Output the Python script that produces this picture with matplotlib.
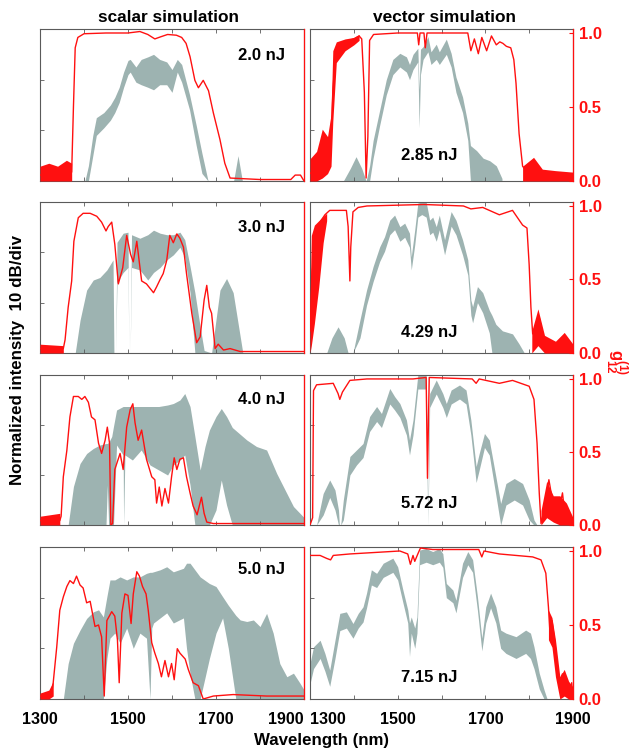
import matplotlib.pyplot as plt

plt.rcParams['font.family'] = ['Liberation Sans', 'DejaVu Sans']
plt.rcParams['font.weight'] = 'bold'
plt.rcParams['mathtext.fontset'] = 'custom'
plt.rcParams['mathtext.rm'] = 'Liberation Sans'
plt.rcParams['mathtext.bf'] = 'Liberation Sans:bold'

# spectra: (wavelength nm, upper dB, lower dB), 10 dB/div, 0 dB at top
# coherence g12: (wavelength nm, value); noisy parts as (wl, low, high) bands

energies_scalar = ['2.0 nJ', '3.0 nJ', '4.0 nJ', '5.0 nJ']
energies_vector = ['2.85 nJ', '4.29 nJ', '5.72 nJ', '7.15 nJ']

# ---- scalar 2.0 nJ
gray_a = [(1402, -30, -30), (1410, -27, -30), (1420, -21, -25), (1428, -17.5, -21), (1445, -16.5, -19.5),
          (1460, -15, -18), (1470, -13.5, -16.5), (1480, -11.5, -14.5), (1490, -8.5, -11.5), (1500, -6.2, -9),
          (1505, -6, -8.5), (1518, -7.5, -10.5), (1530, -6, -11), (1545, -5.5, -11.5), (1558, -5, -12),
          (1572, -6, -11), (1588, -6.5, -11), (1600, -8, -12.5), (1612, -6, -8.5), (1622, -7, -10.5),
          (1640, -13, -16), (1655, -19, -23), (1668, -24.5, -28.5), (1682, -30, -30), (1740, -30, -30),
          (1750, -25, -30), (1760, -30, -30)]
red_a = [(1300, 0.04), (1372, 0.06), (1376, 0.5), (1380, 0.9), (1386, 0.97), (1400, 0.995), (1450, 1.0),
         (1500, 1.0), (1527, 1.01), (1545, 0.99), (1561, 0.96), (1575, 0.975), (1590, 0.99), (1610, 0.985),
         (1622, 0.97), (1632, 0.93), (1641, 0.84), (1652, 0.68), (1660, 0.63), (1671, 0.68), (1683, 0.61),
         (1694, 0.46), (1709, 0.28), (1720, 0.12), (1732, 0.02), (1800, 0.01), (1870, 0.01), (1880, 0.04),
         (1892, 0.04), (1900, 0.0)]
noise_a = [[(1300, 0.0, 0.1), (1320, 0.0, 0.12), (1340, 0.0, 0.1), (1360, 0.0, 0.14), (1372, 0.0, 0.12)]]

# ---- vector 2.85 nJ
gray_b = [(1376, -30, -30), (1392, -27.5, -30), (1405, -25.2, -30), (1418, -27.5, -30), (1428, -30, -30),
          (1436, -27, -30), (1444, -22, -25.5), (1459, -16, -19), (1474, -10, -13), (1489, -6, -9),
          (1505, -4.8, -7.5), (1520, -5.5, -8.5), (1527, -7, -10), (1535, -5, -8), (1546, -3.8, -6.5),
          (1549, -12, -19.5), (1552, -4, -9), (1558, -3.5, -6), (1569, -1.5, -4.5), (1576, -4.5, -7),
          (1588, -3, -6), (1595, -4.5, -7), (1611, -2, -5), (1622, -4.8, -7.5), (1633, -9.5, -12.5),
          (1648, -13.4, -16.5), (1660, -18.6, -22), (1666, -23, -30), (1680, -24, -30), (1695, -25.5, -30),
          (1710, -26, -30), (1725, -27, -30), (1738, -29.5, -30)]
red_b = [(1300, 0.05), (1320, 0.1), (1335, 0.2), (1348, 0.3), (1352, 0.6), (1358, 0.85), (1365, 0.92),
         (1380, 0.94), (1400, 0.96), (1412, 0.98), (1418, 0.96), (1424, 0.6), (1428, 0.02), (1432, 0.3),
         (1436, 0.95), (1445, 0.99), (1500, 1.0), (1545, 1.0), (1548, 0.92), (1551, 1.0), (1560, 1.0),
         (1563, 0.9), (1567, 1.0), (1660, 1.0), (1667, 0.88), (1675, 0.96), (1684, 0.86), (1692, 0.97),
         (1703, 0.88), (1714, 0.98), (1725, 0.92), (1733, 0.94), (1740, 0.93), (1748, 0.91), (1758, 0.9),
         (1765, 0.82), (1770, 0.66), (1777, 0.32), (1785, 0.1), (1800, 0.04), (1815, 0.12), (1825, 0.05),
         (1850, 0.04), (1880, 0.03), (1900, 0.03)]
noise_b = [[(1300, 0.0, 0.15), (1315, 0.0, 0.2), (1328, 0.02, 0.35), (1340, 0.05, 0.3), (1348, 0.1, 0.45),
            (1352, 0.4, 0.88), (1360, 0.8, 0.94), (1380, 0.88, 0.96), (1400, 0.92, 0.97), (1412, 0.95, 0.99)],
           [(1785, 0.0, 0.1), (1810, 0.0, 0.16), (1830, 0.0, 0.08), (1860, 0.0, 0.07), (1900, 0.0, 0.06)]]

# ---- scalar 3.0 nJ
gray_c = [(1380, -30, -30), (1391, -23.5, -30), (1406, -17.5, -30), (1421, -15.5, -30), (1436, -15, -30),
          (1452, -13.5, -30), (1466, -11.5, -30), (1468, -30, -30), (1472, -30, -30), (1475, -8, -16),
          (1489, -6.2, -14), (1500, -6, -13), (1502, -30, -30), (1505, -30, -30), (1508, -6.5, -13),
          (1527, -7.2, -13.5), (1545, -6.5, -15.5), (1558, -5.6, -14), (1573, -6.2, -13), (1588, -6.5, -11.5),
          (1603, -6.5, -10.5), (1618, -6, -9), (1629, -7.5, -11), (1641, -12.8, -18), (1652, -18, -30),
          (1664, -24.8, -30), (1673, -29.5, -30), (1690, -30, -30), (1696, -26, -30), (1709, -17.5, -30),
          (1724, -15.2, -30), (1739, -18, -30), (1750, -24, -30), (1761, -30, -30)]
red_c = [(1300, 0.03), (1353, 0.03), (1357, 0.09), (1364, 0.31), (1372, 0.49), (1377, 0.76), (1387, 0.92),
         (1398, 0.95), (1414, 0.95), (1429, 0.93), (1440, 0.89), (1450, 0.83), (1455, 0.86), (1463, 0.89),
         (1470, 0.74), (1478, 0.47), (1488, 0.58), (1497, 0.8), (1506, 0.67), (1512, 0.62), (1520, 0.76),
         (1526, 0.61), (1531, 0.49), (1542, 0.47), (1558, 0.41), (1565, 0.45), (1573, 0.5), (1580, 0.54),
         (1588, 0.63), (1595, 0.8), (1603, 0.75), (1611, 0.81), (1618, 0.78), (1626, 0.72), (1633, 0.54),
         (1645, 0.27), (1656, 0.07), (1664, 0.11), (1673, 0.36), (1679, 0.46), (1685, 0.31), (1690, 0.27),
         (1698, 0.03), (1705, 0.06), (1717, 0.02), (1732, 0.03), (1755, 0.01), (1900, 0.01)]
noise_c = [[(1300, 0.0, 0.06), (1353, 0.0, 0.05)]]

# ---- vector 4.29 nJ
gray_d = [(1338, -30, -30), (1350, -27, -30), (1364, -24.8, -30), (1378, -27, -30), (1387, -30, -30),
          (1398, -30, -30), (1414, -23.4, -27), (1429, -17.5, -20.5), (1444, -12.8, -15.8), (1459, -8.9, -11.8),
          (1470, -6.9, -9.8), (1482, -3.6, -6.5), (1493, -2.6, -5.5), (1505, -4.9, -7.8), (1516, -4.2, -7),
          (1527, -6.2, -9), (1531, -10.9, -13.5), (1539, -5.5, -8.5), (1546, -0.2, -3), (1555, 0, -2.5),
          (1565, 0, -3), (1573, -3.6, -6.5), (1580, -3, -6), (1588, -4.9, -7.8), (1595, -2.6, -5.5),
          (1607, -7.5, -10.5), (1622, -1.9, -4.8), (1633, -3.6, -6.5), (1648, -7.5, -10.5), (1660, -11.5, -14.5),
          (1667, -19.5, -22.5), (1671, -20.8, -24), (1682, -16.8, -20), (1694, -18, -22), (1709, -21.5, -26),
          (1715, -22.5, -30), (1724, -24.3, -30), (1739, -25.6, -30), (1762, -26.2, -30), (1777, -28.2, -30),
          (1789, -30, -30)]
red_d = [(1300, 0.15), (1305, 0.55), (1315, 0.83), (1325, 0.9), (1334, 0.94), (1345, 0.97), (1383, 0.97),
         (1387, 0.86), (1391, 0.49), (1393, 0.72), (1398, 0.96), (1410, 0.99), (1430, 1.0), (1560, 1.01),
         (1650, 1.0), (1667, 0.98), (1694, 0.99), (1732, 0.94), (1762, 0.97), (1785, 0.87), (1795, 0.85),
         (1800, 0.6), (1804, 0.31), (1808, 0.13), (1815, 0.18), (1823, 0.24), (1834, 0.09), (1850, 0.04),
         (1870, 0.06), (1883, 0.11), (1892, 0.03), (1900, 0.02)]
noise_d = [[(1300, 0.0, 0.35), (1303, 0.05, 0.8), (1310, 0.2, 0.87), (1320, 0.45, 0.9), (1330, 0.75, 0.93),
            (1338, 0.9, 0.95)],
           [(1806, 0.0, 0.15), (1820, 0.05, 0.3), (1835, 0.0, 0.12), (1860, 0.0, 0.08), (1880, 0.0, 0.14),
            (1900, 0.0, 0.06)]]

# ---- scalar 4.0 nJ
gray_e = [(1364, -30, -30), (1376, -22.3, -30), (1391, -17.7, -30), (1406, -15.7, -30), (1421, -14.7, -30),
          (1436, -14, -30), (1450, -13.7, -30), (1453, -13.7, -22), (1456, -13.5, -30), (1463, -12.3, -30),
          (1467, -10.3, -30), (1474, -7, -14), (1489, -6.3, -16), (1490, -6.3, -30), (1493, -6.3, -16),
          (1510, -6.3, -17), (1530, -6.3, -15), (1550, -6.3, -18), (1570, -6.3, -19), (1590, -6, -20),
          (1603, -5.7, -18), (1618, -5, -17), (1629, -3.7, -16), (1641, -6.3, -22), (1652, -12.3, -30),
          (1664, -19, -30), (1675, -14.3, -30), (1685, -11, -30), (1700, -8.3, -27), (1712, -6.7, -21),
          (1724, -8.3, -26), (1737, -10.5, -30), (1770, -13, -30), (1792, -14.3, -30), (1815, -15, -30),
          (1838, -19.7, -30), (1861, -23.7, -30), (1876, -26.3, -30), (1900, -28.5, -30)]
red_e = [(1300, 0.03), (1345, 0.03), (1348, 0.06), (1353, 0.33), (1361, 0.51), (1368, 0.74), (1376, 0.88),
         (1387, 0.88), (1395, 0.86), (1402, 0.88), (1410, 0.84), (1417, 0.74), (1425, 0.72), (1433, 0.56),
         (1440, 0.49), (1448, 0.58), (1453, 0.67), (1458, 0.56), (1461, 0.0), (1465, 0.01), (1470, 0.38),
         (1482, 0.49), (1489, 0.38), (1497, 0.67), (1505, 0.79), (1511, 0.83), (1516, 0.7), (1523, 0.58),
         (1531, 0.65), (1542, 0.45), (1554, 0.33), (1561, 0.31), (1565, 0.15), (1571, 0.26), (1577, 0.13),
         (1584, 0.25), (1592, 0.15), (1599, 0.33), (1605, 0.46), (1611, 0.38), (1618, 0.45), (1626, 0.46),
         (1633, 0.33), (1641, 0.22), (1648, 0.13), (1657, 0.07), (1667, 0.19), (1673, 0.08), (1679, 0.02),
         (1694, 0.01), (1900, 0.01)]
noise_e = [[(1300, 0.0, 0.06), (1345, 0.0, 0.08)]]

# ---- vector 5.72 nJ
gray_f = [(1315, -30, -30), (1330, -23.7, -28), (1345, -21, -24.5), (1357, -23, -27), (1365, -27, -30),
          (1367, -30, -30), (1370, -30, -30), (1376, -25, -29), (1391, -16.3, -20), (1406, -15, -18),
          (1421, -13.7, -16.5), (1436, -8.3, -11.3), (1452, -6.3, -9.3), (1463, -7.7, -10.5), (1482, -2.7, -5.8),
          (1493, -4.3, -7), (1505, -5.7, -8.5), (1520, -9, -12), (1527, -13, -16), (1535, -9, -12),
          (1546, 0, -2.8), (1565, 0, -2.8), (1567, -10, -20), (1569, -30, -30), (1571, -10, -20),
          (1573, -3.7, -6.5), (1588, -1, -3.8), (1603, -3.7, -6.5), (1611, -5.7, -8.5), (1622, -3, -5.8),
          (1641, -2, -4.8), (1656, -3, -5.8), (1667, -9, -12), (1679, -18.3, -21.5), (1686, -15.7, -19),
          (1698, -11.7, -14.5), (1709, -13, -16), (1724, -20.3, -24), (1735, -25.7, -30), (1747, -21.7, -26),
          (1766, -20.7, -25), (1785, -21.7, -26), (1800, -25, -29), (1811, -29, -30), (1818, -30, -30)]
red_f = [(1300, 0.0), (1306, 0.05), (1308, 0.92), (1315, 0.96), (1353, 0.97), (1364, 0.9), (1368, 0.86),
         (1374, 0.91), (1391, 0.99), (1430, 1.0), (1535, 1.0), (1565, 1.01), (1568, 0.32), (1572, 1.01),
         (1670, 1.0), (1679, 0.97), (1686, 1.0), (1732, 0.97), (1762, 0.99), (1800, 0.95), (1811, 0.86),
         (1818, 0.56), (1823, 0.22), (1827, 0.01), (1836, 0.13), (1845, 0.31), (1853, 0.17), (1868, 0.1),
         (1876, 0.22), (1883, 0.03), (1890, 0.08), (1898, 0.01), (1900, 0.0)]
noise_f = [[(1827, 0.0, 0.1), (1840, 0.05, 0.3), (1855, 0.02, 0.2), (1870, 0.0, 0.2), (1885, 0.0, 0.15),
            (1900, 0.0, 0.05)]]

# ---- scalar 5.0 nJ
gray_g = [(1353, -30, -30), (1364, -23, -30), (1376, -19, -30), (1391, -16.4, -30), (1406, -14.1, -30),
          (1421, -12.8, -30), (1433, -12.4, -30), (1444, -13.8, -30), (1452, -9.8, -22), (1459, -6.5, -18),
          (1470, -6.5, -17), (1482, -5.9, -19), (1497, -6.5, -16), (1512, -5.9, -20), (1527, -5.9, -17),
          (1542, -5.2, -18), (1550, -5, -30), (1554, -5, -16), (1558, -4.9, -15), (1573, -4.5, -14),
          (1588, -3.9, -13), (1603, -4.9, -15), (1626, -4.2, -14), (1633, -3.2, -20), (1641, -3.2, -25),
          (1652, -4.5, -30), (1664, -5.9, -30), (1685, -7.2, -22), (1700, -7.8, -17), (1715, -9.8, -14),
          (1728, -11.5, -20), (1745, -13.5, -30), (1755, -14.4, -30), (1770, -14.7, -30), (1785, -14.4, -30),
          (1800, -15.7, -30), (1815, -13.1, -30), (1830, -17, -30), (1845, -23, -30), (1861, -25.6, -30),
          (1876, -24.9, -30), (1891, -26.9, -30), (1900, -28.2, -30)]
red_g = [(1300, 0.02), (1325, 0.02), (1330, 0.11), (1338, 0.35), (1345, 0.6), (1353, 0.69), (1361, 0.76),
         (1368, 0.8), (1376, 0.78), (1383, 0.83), (1391, 0.77), (1398, 0.75), (1406, 0.65), (1414, 0.66),
         (1425, 0.49), (1433, 0.5), (1440, 0.42), (1446, 0.02), (1452, 0.53), (1463, 0.59), (1470, 0.56),
         (1476, 0.4), (1480, 0.11), (1486, 0.58), (1493, 0.71), (1500, 0.7), (1507, 0.51), (1512, 0.71),
         (1520, 0.86), (1526, 0.83), (1533, 0.76), (1541, 0.71), (1546, 0.6), (1554, 0.38), (1561, 0.31),
         (1569, 0.24), (1576, 0.15), (1584, 0.26), (1592, 0.15), (1599, 0.24), (1605, 0.13), (1612, 0.34),
         (1618, 0.31), (1630, 0.27), (1637, 0.2), (1648, 0.11), (1660, 0.09), (1671, 0.0), (1694, 0.02),
         (1739, 0.03), (1815, 0.02), (1900, 0.02)]
noise_g = [[(1300, 0.0, 0.04), (1320, 0.0, 0.06), (1330, 0.02, 0.12)]]

# ---- vector 7.15 nJ
gray_h = [(1300, -23, -27), (1308, -19.7, -24), (1323, -18.4, -22), (1334, -21, -24.5), (1345, -24.3, -27.5),
          (1357, -18.4, -22), (1368, -13.1, -16.5), (1383, -12.8, -16), (1398, -15.1, -18), (1410, -13.1, -16),
          (1421, -11.8, -14.8), (1429, -9.1, -12), (1440, -4.5, -7.5), (1452, -5.2, -8), (1467, -3.2, -6),
          (1489, -2.2, -5), (1500, -3.9, -6.5), (1512, -8.5, -11), (1523, -12.4, -15), (1527, -15, -21.6),
          (1531, -13.8, -17), (1539, -16, -20), (1544, -13.8, -17), (1550, -0.6, -3.5), (1565, -0.3, -3),
          (1580, -0.9, -3.5), (1595, -0.3, -3), (1603, -1.3, -4), (1611, -7.2, -10), (1626, -8.5, -11),
          (1633, -10.5, -13), (1648, -3.2, -6), (1660, -0.9, -3.5), (1671, -2.5, -5), (1682, -9.8, -12.5),
          (1692, -18, -20.5), (1701, -11.8, -15), (1712, -9.1, -12), (1724, -11.8, -15), (1735, -16.4, -20),
          (1747, -17, -21), (1770, -17.7, -22), (1792, -16.4, -21), (1803, -17, -22), (1811, -19.7, -24),
          (1823, -24.9, -28), (1834, -28.2, -30), (1841, -30, -30)]
red_h = [(1300, 0.97), (1323, 0.97), (1338, 0.95), (1347, 0.94), (1353, 0.97), (1391, 0.98), (1505, 1.0),
         (1523, 0.98), (1529, 0.91), (1535, 0.97), (1539, 0.93), (1546, 0.98), (1552, 1.02), (1580, 1.01),
         (1685, 1.01), (1692, 0.96), (1697, 1.0), (1732, 0.98), (1808, 0.96), (1827, 0.94), (1838, 0.85),
         (1844, 0.62), (1847, 0.47), (1852, 0.53), (1858, 0.4), (1862, 0.29), (1868, 0.11), (1876, 0.17),
         (1883, 0.06), (1891, 0.02), (1897, 0.11), (1900, 0.01)]
noise_h = [[(1844, 0.4, 0.6), (1852, 0.35, 0.55), (1860, 0.15, 0.4), (1870, 0.0, 0.15), (1880, 0.02, 0.2),
            (1890, 0.0, 0.12), (1900, 0.0, 0.08)]]

W, H = 629, 752
GRAY = '#9db3b1'
RED = '#ff1010'
SPINE = '#5a5a5a'

rows_px = [(29, 181), (202, 353), (375, 525), (547, 699)]
cols_px = [(40, 304), (310, 573)]
label_y_scalar = [55, 227, 399, 569]
label_y_vector = [155, 333, 503, 677]

fig = plt.figure(figsize=(W / 100, H / 100), dpi=100)


def panel(r, c, gray, red, noise, energy, ey):
    top, bot = rows_px[r]
    left, right = cols_px[c]
    ax = fig.add_axes([left / W, 1 - bot / H, (right - left) / W, (bot - top) / H])
    wl, hi, lo = zip(*gray)
    ax.fill_between(wl, lo, hi, color=GRAY, lw=0)
    ax.set_xlim(1300, 1900)
    ax.set_ylim(-30, 0)
    ax.set_yticks([-20, -10])
    ax.set_yticklabels([])
    ax.set_xticks(range(1300, 1901, 100))
    if r == 3:
        ax.set_xticklabels(['1300', '', '1500', '', '1700', '', '1900'], fontsize=11.5, fontweight='bold')
        labs = ax.get_xticklabels()
        if c == 0:
            labs[-1].set_ha('right')
        else:
            labs[0].set_ha('left')
    else:
        ax.set_xticklabels([])
    ax.tick_params(direction='in', length=3, width=0.6, color=SPINE, top=True, bottom=True,
                   left=True, right=False, pad=9)
    for s in ax.spines.values():
        s.set_color(SPINE)
        s.set_linewidth(0.8)

    ax2 = ax.twinx()
    for band in noise:
        w, l, h = zip(*band)
        ax2.fill_between(w, l, h, color=RED, lw=0)
    w, v = zip(*red)
    ax2.plot(w, v, color=RED, lw=1.0)
    ax2.set_ylim(0, 1.027)
    ax2.set_xlim(1300, 1900)
    for k in ['top', 'bottom', 'left']:
        ax2.spines[k].set_visible(False)
    ax2.spines['right'].set_color(RED)
    ax2.spines['right'].set_linewidth(0.9)
    if c == 1:
        ax2.set_yticks([0, 0.5, 1.0])
        ax2.set_yticklabels(['0.0', '0.5', '1.0'], color=RED, fontsize=12, fontweight='bold')
        ax2.tick_params(axis='y', direction='in', length=3, color=RED, pad=4)
    else:
        ax2.set_yticks([])

    fig.text((262 if c == 0 else 429) / W, 1 - ey / H, energy, ha='center', va='center',
             fontsize=12, fontweight='bold')


panel(0, 0, gray_a, red_a, noise_a, energies_scalar[0], label_y_scalar[0])
panel(0, 1, gray_b, red_b, noise_b, energies_vector[0], label_y_vector[0])
panel(1, 0, gray_c, red_c, noise_c, energies_scalar[1], label_y_scalar[1])
panel(1, 1, gray_d, red_d, noise_d, energies_vector[1], label_y_vector[1])
panel(2, 0, gray_e, red_e, noise_e, energies_scalar[2], label_y_scalar[2])
panel(2, 1, gray_f, red_f, noise_f, energies_vector[2], label_y_vector[2])
panel(3, 0, gray_g, red_g, noise_g, energies_scalar[3], label_y_scalar[3])
panel(3, 1, gray_h, red_h, noise_h, energies_vector[3], label_y_vector[3])

fig.text(169 / W, 1 - 17 / H, 'scalar simulation', ha='center', va='center', fontsize=12.4, fontweight='bold')
fig.text(444 / W, 1 - 17 / H, 'vector simulation', ha='center', va='center', fontsize=12.4, fontweight='bold')
fig.text(18 / W, 1 - 360 / H, 'Normalized intensity  10 dB/div', rotation=90, ha='center', va='center',
         fontsize=12.2, fontweight='bold')
fig.text(322 / W, 1 - 740 / H, 'Wavelength (nm)', ha='center', va='center', fontsize=12.2, fontweight='bold')
fig.text(616 / W, 1 - 362 / H, r'$\mathbf{g}_{\mathbf{12}}^{\mathbf{(1)}}$', rotation=-90, ha='center',
         va='center', fontsize=12, color=RED)

fig.savefig('out.png', dpi=100)
